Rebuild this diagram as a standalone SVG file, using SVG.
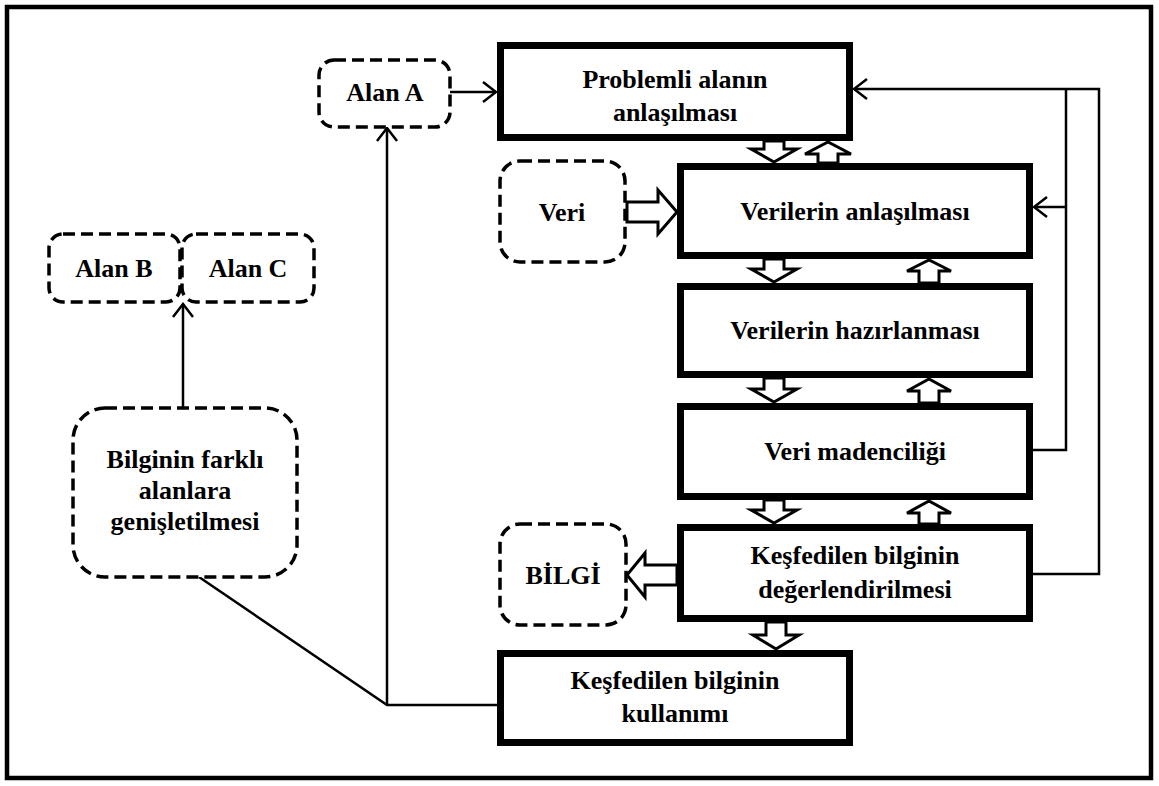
<svg xmlns="http://www.w3.org/2000/svg" width="1159" height="786" viewBox="0 0 1159 786">
<style>
.frame{fill:none;stroke:#000;stroke-width:4.5}
.box{fill:#fff;stroke:#000;stroke-width:7}
.dash{fill:#fff;stroke:#000;stroke-width:3.5;stroke-dasharray:12 6}
.ln{fill:none;stroke:#000;stroke-width:2.5}
.blk{fill:#fff;stroke:#000;stroke-width:3;stroke-linejoin:miter}
</style>
<defs>
<marker id="ah" markerUnits="userSpaceOnUse" markerWidth="16" markerHeight="22" refX="14" refY="11" orient="auto">
<path d="M1,1 L14,11 L1,21" fill="none" stroke="#000" stroke-width="2.5"/>
</marker>
</defs>
<rect class="frame" x="7" y="7" width="1144" height="771"/>

<g id="connectors">
<line class="ln" x1="450" y1="92" x2="496" y2="92" marker-end="url(#ah)"/>
<polyline class="ln" points="199,577 387,705 497,705"/>
<line class="ln" x1="387" y1="705" x2="387" y2="128" marker-end="url(#ah)"/>
<line class="ln" x1="183" y1="407" x2="183" y2="304" marker-end="url(#ah)"/>
<polyline class="ln" points="1033,450 1066,450 1066,89"/>
<line class="ln" x1="1066" y1="207" x2="1034" y2="207" marker-end="url(#ah)"/>
<polyline class="ln" points="1033,574 1099,574 1099,89 854,89" marker-end="url(#ah)"/>
<polygon class="blk" points="764,141 784,141 784,149 797,149 774,162 751,149 764,149"/>
<polygon class="blk" points="818,163 838,163 838,154 851,154 828,142 805,154 818,154"/>
<polygon class="blk" points="764,259 784,259 784,269 797,269 774,282 751,269 764,269"/>
<polygon class="blk" points="919,283 939,283 939,271 951,271 929,260 907,271 919,271"/>
<polygon class="blk" points="764,378 784,378 784,389 797,389 774,402 751,389 764,389"/>
<polygon class="blk" points="919,403 939,403 939,391 951,391 929,379 907,391 919,391"/>
<polygon class="blk" points="764,500 784,500 784,510 797,510 774,523 751,510 764,510"/>
<polygon class="blk" points="919,524 939,524 939,513 951,513 929,501 907,513 919,513"/>
<polygon class="blk" points="766,622 786,622 786,635 799,635 776,649 753,635 766,635"/>
<polygon class="blk" points="627,202 658,202 658,190 677,212 658,234 658,222 627,222"/>
<polygon class="blk" points="677,565 645,565 645,553 627,575 645,597 645,585 677,585"/>
</g>

<g font-family="Liberation Serif, DejaVu Serif, serif" font-weight="bold" font-size="26" text-anchor="middle" fill="#000">
<g id="alanA">
<rect class="dash" x="319" y="60" width="131" height="67" rx="15"/>
<text x="385" y="101">Alan A</text>
</g>
<g id="problemli">
<rect class="box" x="500.5" y="45.5" width="349" height="92"/>
<text x="675" y="88">Problemli alanın</text>
<text x="675" y="121">anlaşılması</text>
</g>
<g id="veri">
<rect class="dash" x="500" y="161" width="125" height="101" rx="20"/>
<text x="562" y="221">Veri</text>
</g>
<g id="verilerinAnlasilmasi">
<rect class="box" x="680.5" y="166.5" width="349" height="89"/>
<text x="855" y="220">Verilerin anlaşılması</text>
</g>
<g id="verilerinHazirlanmasi">
<rect class="box" x="680.5" y="286.5" width="349" height="88"/>
<text x="855" y="339">Verilerin hazırlanması</text>
</g>
<g id="veriMadenciligi">
<rect class="box" x="680.5" y="406.5" width="349" height="90"/>
<text x="855" y="460">Veri madenciliği</text>
</g>
<g id="kesfedilenDegerlendirme">
<rect class="box" x="680.5" y="527.5" width="349" height="91"/>
<text x="855" y="564">Keşfedilen bilginin</text>
<text x="855" y="598">değerlendirilmesi</text>
</g>
<g id="bilgi">
<rect class="dash" x="500" y="524" width="126" height="101" rx="20"/>
<text x="563" y="584">BİLGİ</text>
</g>
<g id="kesfedilenKullanim">
<rect class="box" x="500.5" y="653.5" width="349" height="89"/>
<text x="675" y="689">Keşfedilen bilginin</text>
<text x="675" y="722">kullanımı</text>
</g>
<g id="alanB">
<rect class="dash" x="49" y="234" width="131" height="68" rx="14"/>
<text x="114" y="277">Alan B</text>
</g>
<g id="alanC">
<rect class="dash" x="182" y="234" width="132" height="68" rx="14"/>
<text x="248" y="277">Alan C</text>
</g>
<g id="bilginin">
<rect class="dash" x="73" y="408" width="224" height="169" rx="32"/>
<text x="185" y="468">Bilginin farklı</text>
<text x="185" y="499">alanlara</text>
<text x="185" y="530">genişletilmesi</text>
</g>
</g>
</svg>
